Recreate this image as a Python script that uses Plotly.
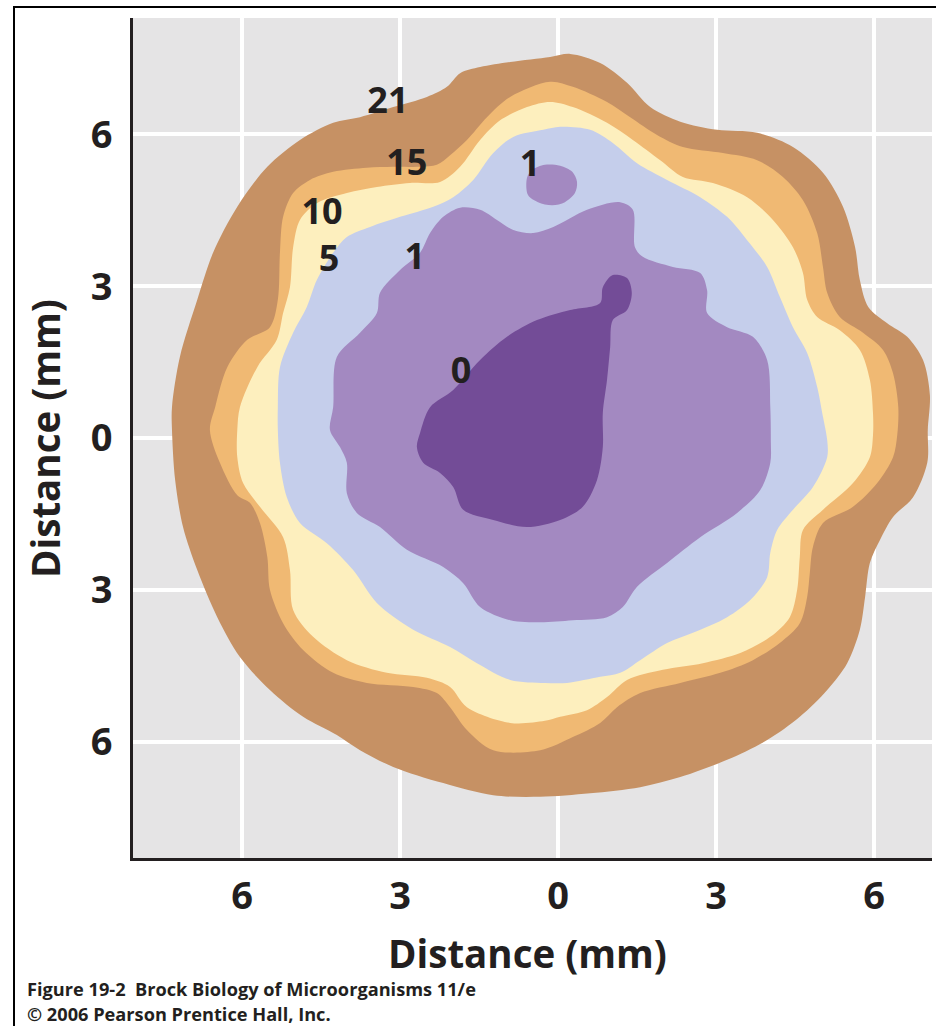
import plotly.graph_objects as go

# ---------------- data (mm) ----------------
# Oxygen contour boundaries (% O2)
o2_21_x = [-7.33, -7.33, -7.18, -6.85, -6.55, -6.09, -5.52, -4.90, -4.27, -3.76, -3.13, -2.49, -2.11, -1.86, -1.48, -0.91, -0.15,
           0.23, 0.80, 1.31, 1.75, 2.32, 3.02, 3.78, 4.46, 5.03, 5.41, 5.64, 5.73, 5.89, 6.25, 6.63, 6.93, 7.06,
           7.02, 7.01, 6.74, 6.36, 6.11, 5.92, 5.83, 5.73, 5.49, 5.11, 4.59, 3.97, 3.21, 2.32, 1.56, 0.61, -0.34,
           -1.23, -2.18, -3.13, -3.76, -4.20, -4.84, -5.47, -6.04, -6.47, -6.85, -7.12, -7.27]
o2_21_y = [0.16, 0.61, 1.60, 2.73, 3.66, 4.57, 5.36, 5.89, 6.23, 6.34, 6.54, 6.74, 6.94, 7.21, 7.33, 7.43, 7.53,
           7.59, 7.41, 7.02, 6.54, 6.25, 6.09, 6.03, 5.75, 5.24, 4.57, 3.77, 3.12, 2.59, 2.27, 2.00, 1.54, 0.85,
           0.16, -0.49, -1.17, -1.56, -2.02, -2.47, -3.14, -3.79, -4.45, -4.98, -5.51, -5.97, -6.36, -6.70, -6.90, -7.02, -7.09,
           -7.06, -6.82, -6.50, -6.17, -5.87, -5.51, -4.98, -4.33, -3.54, -2.61, -1.76, -0.83]

o2_15_x = [-6.61, -6.51, -6.28, -5.90, -5.47, -5.32, -5.28, -5.22, -5.03, -4.71, -4.27, -3.63, -3.13, -2.62, -2.30, -2.05, -1.73,
           -1.35, -0.91, -0.15, 0.28, 0.93, 1.37, 1.88, 2.37, 3.13, 3.78, 4.27, 4.65, 4.92, 5.03, 5.11, 5.35, 5.79,
           6.17, 6.36, 6.46, 6.44, 6.36, 6.06, 5.60, 5.03, 4.84, 4.78, 4.73, 4.59, 4.21, 3.70, 3.08, 2.32, 1.56,
           1.12, 0.80, 0.28, -0.34, -1.23, -1.73, -2.05, -2.30, -2.75, -3.63, -4.27, -4.84, -5.22, -5.47, -5.52,
           -5.66, -5.85, -6.09, -6.42]
o2_15_y = [0.16, 0.61, 1.40, 1.94, 2.19, 2.73, 3.66, 4.37, 4.84, 5.10, 5.26, 5.34, 5.36, 5.36, 5.40, 5.59, 5.89,
           6.34, 6.74, 7.04, 6.94, 6.64, 6.34, 5.99, 5.75, 5.63, 5.49, 5.16, 4.70, 4.05, 3.38, 2.87, 2.39, 2.08,
           1.74, 1.28, 0.61, 0.06, -0.38, -0.89, -1.36, -1.68, -2.15, -2.67, -3.14, -3.66, -4.05, -4.39, -4.64, -4.84, -5.04,
           -5.32, -5.63, -5.91, -6.17, -6.17, -5.77, -5.32, -5.04, -4.92, -4.84, -4.64, -4.19, -3.66, -3.00, -2.35,
           -1.68, -1.28, -1.13, -0.49]

o2_10_x = [-6.09, -6.04, -5.71, -5.34, -5.22, -5.09, -5.03, -4.90, -4.58, -4.01, -3.44, -2.81, -2.24, -1.86, -1.48, -1.10, -0.59,
           -0.15, 0.28, 0.93, 1.42, 1.94, 2.37, 2.94, 3.59, 4.08, 4.46, 4.65, 4.73, 4.92, 5.35, 5.73, 5.92, 5.98,
           5.98, 5.92, 5.60, 5.03, 4.65, 4.59, 4.54, 4.40, 4.03, 3.46, 2.75, 1.99, 1.31, 0.93, 0.55, 0.04, -0.25,
           -0.91, -1.73, -2.05, -2.49, -3.25, -4.01, -4.65, -5.03, -5.09, -5.22, -5.66, -5.98, -6.09]
o2_10_y = [0.16, 0.61, 1.40, 1.94, 2.47, 2.98, 3.77, 4.31, 4.64, 4.84, 4.96, 5.04, 5.06, 5.36, 5.89, 6.28, 6.54,
           6.64, 6.54, 6.23, 5.89, 5.49, 5.16, 5.04, 4.76, 4.31, 3.77, 3.26, 2.73, 2.39, 2.13, 1.74, 1.15, 0.49,
           0.06, -0.38, -0.89, -1.42, -1.82, -2.35, -3.00, -3.54, -3.93, -4.25, -4.45, -4.58, -4.78, -5.12, -5.38, -5.51, -5.59,
           -5.63, -5.32, -4.92, -4.74, -4.64, -4.39, -3.93, -3.40, -2.61, -1.96, -1.36, -0.89, -0.38]

o2_5_x = [-5.32, -5.32, -5.28, -5.03, -4.77, -4.58, -4.27, -4.01, -3.57, -3.00, -2.37, -1.99, -1.61, -1.23, -0.85, -0.28,
          0.04, 0.61, 1.04, 1.50, 2.07, 2.70, 3.21, 3.59, 3.97, 4.21, 4.46, 4.73, 4.92, 5.03,
          5.11, 5.11, 4.84, 4.46, 4.16, 4.03, 3.97, 3.65, 3.21, 2.56, 2.07, 1.56, 1.18, 0.80, 0.17,
          -0.25, -0.91, -1.54, -2.05, -2.75, -3.44, -3.89, -4.39, -4.90, -5.15, -5.28]
o2_5_y = [0.16, 0.61, 1.40, 2.08, 2.59, 3.12, 3.66, 3.97, 4.17, 4.37, 4.57, 4.76, 5.10, 5.63, 5.95, 6.09,
          6.15, 6.09, 5.83, 5.43, 5.10, 4.76, 4.37, 3.91, 3.38, 2.79, 2.19, 1.68, 1.01, 0.42,
          -0.04, -0.38, -0.97, -1.42, -1.82, -2.27, -2.75, -3.20, -3.54, -3.85, -4.05, -4.39, -4.64, -4.72, -4.84,
          -4.84, -4.78, -4.45, -4.13, -3.79, -3.26, -2.61, -2.08, -1.68, -1.17, -0.49]

o2_1_x = [-4.33, -4.27, -4.20, -3.76, -3.44, -3.38, -3.00, -2.62, -2.43, -2.18, -1.86, -1.48, -1.16, -0.85, -0.47, -0.09,
          0.55, 1.18, 1.42, 1.46, 1.61, 2.18, 2.70, 2.83, 2.83, 3.21, 3.70, 3.97, 4.03, 4.04,
          4.03, 3.84, 3.40, 2.70, 2.07, 1.50, 1.23, 0.93, 0.28, -0.34,
          -0.91, -1.48, -1.80, -2.18, -2.87, -3.38, -3.82, -4.01, -4.01, -4.14]
o2_1_y = [0.16, 0.61, 1.60, 2.08, 2.47, 2.87, 3.32, 3.66, 4.05, 4.37, 4.55, 4.51, 4.31, 4.11, 4.05, 4.17,
          4.51, 4.66, 4.51, 3.77, 3.58, 3.38, 3.26, 2.92, 2.47, 2.19, 2.00, 1.54, 0.61, -0.04,
          -0.49, -1.03, -1.48, -1.96, -2.47, -2.94, -3.34, -3.54, -3.60, -3.64,
          -3.60, -3.34, -2.87, -2.55, -2.21, -1.76, -1.48, -1.09, -0.49, -0.18]

o2_1_island_x = [-0.59, -0.49, -0.25, 0.04, 0.27, 0.36, 0.32, 0.13, -0.11, -0.38, -0.57]
o2_1_island_y = [5.14, 5.30, 5.40, 5.38, 5.26, 5.06, 4.84, 4.66, 4.60, 4.66, 4.80]

o2_0_x = [-2.68, -2.62, -2.43, -1.99, -1.48, -0.97, -0.40, 0.23, 0.80, 0.85, 1.04, 1.31, 1.40, 1.31, 1.04,
          0.99, 0.93, 0.85, 0.85, 0.74, 0.47, 0.04, -0.59, -1.23, -1.80, -1.99, -2.24, -2.56]
o2_0_y = [-0.18, 0.10, 0.61, 0.95, 1.54, 2.00, 2.33, 2.53, 2.67, 2.98, 3.22, 3.16, 2.87, 2.53, 2.33,
          1.80, 1.15, 0.49, -0.18, -0.83, -1.36, -1.62, -1.76, -1.62, -1.42, -0.97, -0.69, -0.49]

# contour labels
label_text = ["21", "15", "10", "5", "1", "1", "0"]
label_x = [-3.23, -2.87, -4.48, -4.35, -2.72, -0.53, -1.84]
label_y = [6.60, 5.38, 4.40, 3.48, 3.52, 5.36, 1.27]

tick_vals = [-6, -3, 0, 3, 6]
tick_text = ["6", "3", "0", "3", "6"]
axis_title = "Distance (mm)"
caption_1 = "Figure 19-2\u00a0 Brock Biology of Microorganisms 11/e"
caption_2 = "\u00a9 2006 Pearson Prentice Hall, Inc."

# ---------------- styling ----------------
FONT = "Open Sans"
INK = "#231f20"
layers = [
    (o2_21_x, o2_21_y, "#c69164"),
    (o2_15_x, o2_15_y, "#f0b973"),
    (o2_10_x, o2_10_y, "#fdefbe"),
    (o2_5_x, o2_5_y, "#c5ceeb"),
    (o2_1_x, o2_1_y, "#a389c1"),
    (o2_1_island_x, o2_1_island_y, "#a389c1"),
    (o2_0_x, o2_0_y, "#734c97"),
]

fig = go.Figure()
for xs, ys, col in layers:
    fig.add_trace(go.Scatter(
        x=list(xs) + [xs[0]], y=list(ys) + [ys[0]],
        mode="lines", fill="toself", fillcolor=col,
        line=dict(width=0, shape="spline", smoothing=0.9, color=col),
        hoverinfo="skip", showlegend=False,
    ))

fig.add_trace(go.Scatter(
    x=label_x, y=label_y, text=label_text, mode="text",
    textposition="middle center",
    textfont=dict(family=FONT, size=36, color=INK, weight="bold"),
    hoverinfo="skip", showlegend=False,
))

W, H = 936, 1026
ML, MR, MT, MB = 133, 4, 18, 168
pw, ph = W - ML - MR, H - MT - MB

def px_to_paper_x(px):
    return (px - ML) / pw

def px_to_paper_y(py):
    return (H - MB - py) / ph

axis_common = dict(
    tickvals=tick_vals, ticktext=tick_text,
    tickfont=dict(family=FONT, size=38, color=INK, weight="bold"),
    showgrid=True, gridcolor="white", gridwidth=4,
    zeroline=False, showline=True, linecolor=INK, linewidth=3,
    ticks="", fixedrange=True,
)

fig.update_layout(
    width=W, height=H,
    margin=dict(l=ML, r=MR, t=MT, b=MB, pad=0),
    paper_bgcolor="white", plot_bgcolor="#e5e4e5",
    xaxis=dict(range=[-8.07, 7.10], ticklabelstandoff=2, **axis_common),
    yaxis=dict(range=[-8.30, 8.30], ticklabelstandoff=10, **axis_common),
    showlegend=False,
    annotations=[
        dict(text=axis_title, xref="paper", yref="paper",
             x=px_to_paper_x(527), y=px_to_paper_y(953), xanchor="center", yanchor="middle",
             showarrow=False, font=dict(family=FONT, size=38.5, color=INK, weight="bold")),
        dict(text=axis_title, xref="paper", yref="paper", textangle=-90,
             x=px_to_paper_x(45), y=px_to_paper_y(439), xanchor="center", yanchor="middle",
             showarrow=False, font=dict(family=FONT, size=38.5, color=INK, weight="bold")),
        dict(text=caption_1, xref="paper", yref="paper",
             x=px_to_paper_x(25), y=px_to_paper_y(989), xanchor="left", yanchor="middle",
             showarrow=False, font=dict(family=FONT, size=18.2, color=INK, weight="bold")),
        dict(text=caption_2, xref="paper", yref="paper",
             x=px_to_paper_x(25), y=px_to_paper_y(1014), xanchor="left", yanchor="middle",
             showarrow=False, font=dict(family=FONT, size=18.2, color=INK, weight="bold")),
    ],
    shapes=[
        dict(type="rect", xref="paper", yref="paper",
             x0=px_to_paper_x(14), x1=px_to_paper_x(960),
             y0=px_to_paper_y(1060), y1=px_to_paper_y(7),
             line=dict(color="black", width=2), fillcolor="rgba(0,0,0,0)", layer="above"),
    ],
)

fig.write_html(
    "out.html",
    config={"displayModeBar": False},
    post_script="document.body.style.margin='0';document.body.style.overflow='hidden';",
)
